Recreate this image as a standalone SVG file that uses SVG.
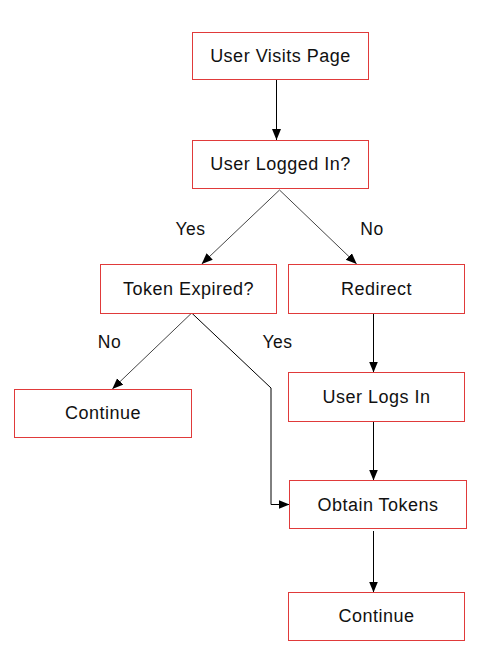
<svg xmlns="http://www.w3.org/2000/svg" width="480" height="672" viewBox="0 0 480 672">
<style>
.node rect{fill:#fff;stroke:#e03a3a;stroke-width:1}
.node text,.lbl{font-family:"Liberation Sans",Arial,sans-serif;font-size:18px;letter-spacing:0.5px;fill:#111;text-anchor:middle}
.lbl{font-size:17.5px}
.edge{fill:none;stroke:#000;stroke-width:1}
.diag{stroke:#444}
</style>
<defs>
<marker id="ah" markerUnits="userSpaceOnUse" markerWidth="12" markerHeight="10" refX="11" refY="4.5" orient="auto">
<path d="M0,0 L11,4.5 L0,9 Z" fill="#000"/>
</marker>
</defs>
<rect width="480" height="672" fill="#fff"/>
<g id="connectors">
<path class="edge" d="M276.5,80 L276.5,140" marker-end="url(#ah)"/>
<path class="edge diag" d="M279.5,190 L201.7,264" marker-end="url(#ah)"/>
<path class="edge diag" d="M279.5,190 L356.7,264" marker-end="url(#ah)"/>
<path class="edge" d="M373.5,313 L373.5,372.5" marker-end="url(#ah)"/>
<path class="edge diag" d="M191.7,313 L112.3,389" marker-end="url(#ah)"/>
<path class="edge" d="M191.7,313 L271,388 L271,504.5 L289.5,504.5" marker-end="url(#ah)"/>
<path class="edge" d="M373.5,421 L373.5,480.5" marker-end="url(#ah)"/>
<path class="edge" d="M373.5,531 L373.5,592.5" marker-end="url(#ah)"/>
<text class="lbl" x="190.5" y="235">Yes</text>
<text class="lbl" x="372" y="235">No</text>
<text class="lbl" x="109.5" y="348">No</text>
<text class="lbl" x="277.5" y="348">Yes</text>
</g>
<g id="n1" class="node"><rect x="192.5" y="32.5" width="176" height="47"/><text x="280.5" y="62">User Visits Page</text></g>
<g id="n2" class="node"><rect x="192.5" y="140.5" width="176" height="48"/><text x="280.5" y="170">User Logged In?</text></g>
<g id="n3" class="node"><rect x="100.5" y="264.5" width="176" height="49"/><text x="188.5" y="295">Token Expired?</text></g>
<g id="n4" class="node"><rect x="288.5" y="264.5" width="176" height="49"/><text x="376.5" y="295">Redirect</text></g>
<g id="n5" class="node"><rect x="14.5" y="389.5" width="177" height="48"/><text x="103" y="419">Continue</text></g>
<g id="n6" class="node"><rect x="288.5" y="372.5" width="176" height="49"/><text x="376.5" y="403">User Logs In</text></g>
<g id="n7" class="node"><rect x="289.5" y="480.5" width="177" height="48"/><text x="378" y="510.5">Obtain Tokens</text></g>
<g id="n8" class="node"><rect x="288.5" y="592.5" width="176" height="48"/><text x="376.5" y="622">Continue</text></g>
</svg>
